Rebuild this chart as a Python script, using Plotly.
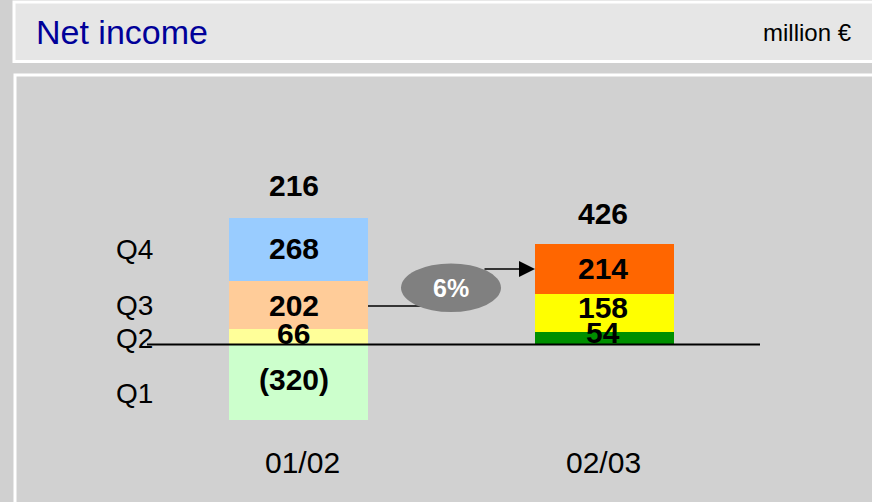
import plotly.graph_objects as go

# ---------------- data ----------------
categories = ["01/02", "02/03"]
quarters = ["Q1", "Q2", "Q3", "Q4"]
q1_values = [-320, 0]
q2_values = [66, 54]
q3_values = [202, 158]
q4_values = [268, 214]
q1_colors = ["#ccffcc", "#ccffcc"]
q2_colors = ["#ffff99", "#008f00"]
q3_colors = ["#ffcc99", "#ffff00"]
q4_colors = ["#99ccff", "#ff6600"]
growth_label = "6%"
title_text = "Net income"
unit_text = "million €"

series = [q1_values, q2_values, q3_values, q4_values]
colors = [q1_colors, q2_colors, q3_colors, q4_colors]

W, H = 872, 502
OFF = 0
FONT = "Liberation Sans"

def px(x):
    return (x - OFF) / W

def py(y):
    return 1 - (y - OFF) / H

def fmt(v):
    return f"({abs(v)})" if v < 0 else str(v)

fig = go.Figure()
for name, vals, cols in zip(quarters, series, colors):
    fig.add_trace(go.Bar(
        x=categories, y=vals, name=name, marker=dict(color=cols, line=dict(width=0)),
        width=0.454, hoverinfo="skip", showlegend=False,
    ))

annotations = []
# per-label small offsets (pixels)
yshift_map = {(0, 0): 3, (0, 1): 3, (0, 2): 0, (0, 3): 1,
              (1, 1): 6, (1, 2): 6, (1, 3): 1}
xshift_cat = [-5, -2]
totals_shift = [32, 30]

for ci, cat in enumerate(categories):
    base = 0
    for qi, vals in enumerate(series):
        v = vals[ci]
        if v == 0:
            continue
        if v > 0:
            mid = base + v / 2
            base += v
        else:
            mid = v / 2
        annotations.append(dict(
            x=cat, y=mid, xref="x", yref="y", text=fmt(v), showarrow=False,
            xanchor="center", yanchor="middle",
            xshift=xshift_cat[ci], yshift=yshift_map.get((ci, qi), 0),
            font=dict(family=FONT, size=30, color="black", weight="bold"),
        ))
    total = sum(vals[ci] for vals in series)
    annotations.append(dict(
        x=cat, y=base, xref="x", yref="y", text=str(total), showarrow=False,
        xanchor="center", yanchor="middle", xshift=xshift_cat[ci], yshift=totals_shift[ci],
        font=dict(family=FONT, size=30, color="black", weight="bold"),
    ))
    # category label
    annotations.append(dict(
        x=cat, y=py(462), xref="x", yref="paper", text=cat, showarrow=False,
        xanchor="center", yanchor="middle", xshift=[4, -1][ci],
        font=dict(family=FONT, size=30, color="black"),
    ))

# quarter labels aligned with first bar segments
q_shift = [-11, -2, 0, 0]
base = 0
for qi, vals in enumerate(series):
    v = vals[0]
    if v > 0:
        mid = base + v / 2
        base += v
    else:
        mid = v / 2
    annotations.append(dict(
        x=px(114), y=mid, xref="paper", yref="y", text=quarters[qi], showarrow=False,
        xanchor="left", yanchor="middle", yshift=q_shift[qi],
        font=dict(family=FONT, size=28, color="black"),
    ))

# header texts
annotations.append(dict(x=px(34), y=py(32), xref="paper", yref="paper", text=title_text,
                        showarrow=False, xanchor="left", yanchor="middle",
                        font=dict(family=FONT, size=34, color="#000099")))
annotations.append(dict(x=px(854), y=py(33), xref="paper", yref="paper", text=unit_text,
                        showarrow=False, xanchor="right", yanchor="middle",
                        font=dict(family=FONT, size=24, color="black")))
# growth ellipse text
annotations.append(dict(x=px(451), y=py(288), xref="paper", yref="paper", text=growth_label,
                        showarrow=False, xanchor="center", yanchor="middle",
                        font=dict(family=FONT, size=25, color="white", weight="bold")))
# arrow
annotations.append(dict(x=px(535), y=py(269), xref="paper", yref="paper", text="",
                        showarrow=True, ax=-52, ay=0, axref="pixel", ayref="pixel",
                        arrowhead=2, arrowsize=2, arrowwidth=1.6, arrowcolor="black",
                        standoff=0, startstandoff=0))

shapes = [
    # header panel
    dict(type="rect", xref="paper", yref="paper", x0=px(14), x1=px(890), y0=py(2), y1=py(61.5),
         fillcolor="#e6e6e6", line=dict(color="white", width=3), layer="below"),
    # body panel
    dict(type="rect", xref="paper", yref="paper", x0=px(15), x1=px(890), y0=py(75), y1=py(520),
         fillcolor="#d1d1d1", line=dict(color="white", width=3), layer="below"),
    # baseline
    dict(type="line", xref="paper", yref="y", x0=px(147), x1=px(760), y0=0, y1=0,
         line=dict(color="black", width=2), layer="above"),
    # connector line
    dict(type="line", xref="paper", yref="paper", x0=px(368), x1=px(430), y0=py(306), y1=py(306),
         line=dict(color="black", width=1.5), layer="above"),
    # ellipse
    dict(type="circle", xref="paper", yref="paper", x0=px(401), x1=px(501), y0=py(312), y1=py(263.5),
         fillcolor="#808080", line=dict(width=0), layer="above"),
]

scale = 0.2365  # px per unit
zero_px = 344.5 - OFF
ymin = -(H - zero_px) / scale
ymax = zero_px / scale
cat_px = 306.0
c0 = 298.5 - OFF

fig.update_layout(
    width=W, height=H, autosize=False,
    margin=dict(l=0, r=0, t=0, b=0),
    paper_bgcolor="#d0d0d0", plot_bgcolor="rgba(0,0,0,0)",
    barmode="relative", bargap=0,
    xaxis=dict(range=[-c0 / cat_px, (W - c0) / cat_px], visible=False, fixedrange=True),
    yaxis=dict(range=[ymin, ymax], visible=False, fixedrange=True),
    shapes=shapes, annotations=annotations,
    font=dict(family=FONT),
)

fig.write_html(
    "out.html",
    config={"displayModeBar": False},
    post_script="document.body.style.margin='0';document.body.style.overflow='hidden';"
                "document.body.style.background='#d0d0d0';",
)
